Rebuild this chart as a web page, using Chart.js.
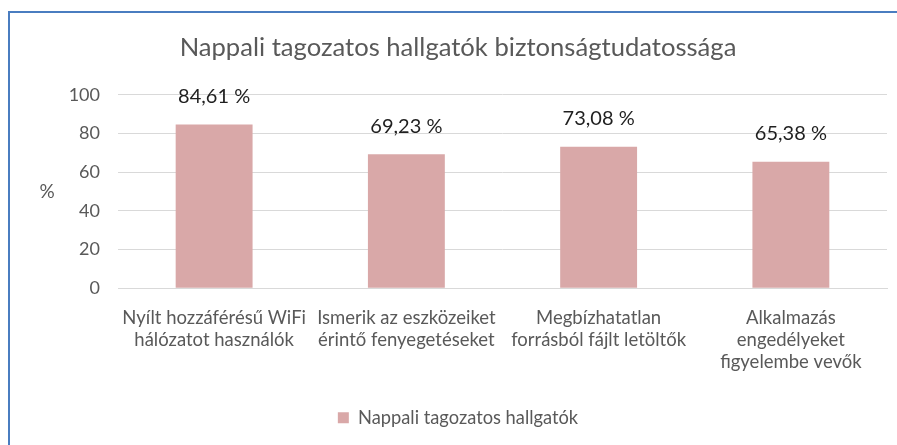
<!DOCTYPE html>
<html>
<head>
<meta charset="utf-8">
<script src="https://cdn.jsdelivr.net/npm/chart.js@4/dist/chart.umd.min.js"></script>
<style>
  html, body { margin: 0; padding: 0; background: #fff; overflow: hidden; width: 897px; height: 445px; }
  #frame { position: absolute; left: 8px; top: 11px; width: 1000px; height: 1000px;
           border-left: 2.5px solid #4a7dc0; border-top: 2.5px solid #4a7dc0; box-sizing: border-box; }
  #wrap { position: absolute; left: 10px; top: 0; width: 896px; height: 445px; }
</style>
</head>
<body>
<div id="frame"></div>
<div id="wrap"><canvas id="c" width="896" height="445"></canvas></div>
<script>
const categories = [
  ["Nyílt hozzáférésű WiFi", "hálózatot használók"],
  ["Ismerik az eszközeiket", "érintő fenyegetéseket"],
  ["Megbízhatatlan", "forrásból fájlt letöltők"],
  ["Alkalmazás", "engedélyeket", "figyelembe vevők"]
];
const seriesName = "Nappali tagozatos hallgatók";
const values = [84.61, 69.23, 73.08, 65.38];
const valueLabels = ["84,61 %", "69,23 %", "73,08 %", "65,38 %"];
const yTicks = [0, 20, 40, 60, 80, 100];
const chartTitle = "Nappali tagozatos hallgatók biztonságtudatossága";
const yAxisTitle = "%";

const FONT = "Lato";
const barColor = "#d9a8a8";
const textGray = "#595959";

const labelPlugin = {
  id: "valueLabels",
  afterDatasetsDraw(chart) {
    const ctx = chart.ctx;
    const meta = chart.getDatasetMeta(0);
    ctx.save();
    ctx.font = "20px " + FONT;
    ctx.fillStyle = "#1f1f1f";
    ctx.textAlign = "center";
    ctx.textBaseline = "middle";
    meta.data.forEach((bar, i) => {
      ctx.fillText(valueLabels[i], bar.x, bar.y - 28);
    });
    ctx.restore();
  }
};

const yTitlePlugin = {
  id: "yTitle",
  afterDraw(chart) {
    const ctx = chart.ctx;
    const a = chart.chartArea;
    ctx.save();
    ctx.font = "19px " + FONT;
    ctx.fillStyle = textGray;
    ctx.textAlign = "center";
    ctx.textBaseline = "middle";
    ctx.fillText(yAxisTitle, 37, (a.top + a.bottom) / 2);
    ctx.restore();
  }
};

new Chart(document.getElementById("c"), {
  type: "bar",
  data: {
    labels: categories,
    datasets: [{
      label: seriesName,
      data: values,
      backgroundColor: barColor,
      borderWidth: 0,
      barPercentage: 0.4,
      categoryPercentage: 1.0
    }]
  },
  options: {
    responsive: false,
    animation: false,
    devicePixelRatio: 1,
    layout: { padding: { left: 0, right: 0, top: 0, bottom: 8 } },
    plugins: {
      title: {
        display: true,
        text: chartTitle,
        color: textGray,
        font: { family: FONT, size: 25.6, weight: "normal", lineHeight: 1.2 },
        padding: { top: 32, bottom: 32 }
      },
      legend: {
        display: true,
        position: "bottom",
        labels: {
          color: textGray,
          font: { family: FONT, size: 18.3 },
          boxWidth: 11,
          boxHeight: 11,
          padding: 10
        }
      },
      tooltip: { enabled: false }
    },
    scales: {
      x: {
        afterFit(scale) { scale.height = 110.5; },
        grid: { display: false, drawTicks: false },
        border: { display: true, color: "#d9d9d9" },
        ticks: {
          color: textGray,
          font: { family: FONT, size: 18.5, lineHeight: 1.19 },
          autoSkip: false,
          maxRotation: 0,
          minRotation: 0,
          padding: 19
        }
      },
      y: {
        min: 0,
        max: 100,
        afterBuildTicks(scale) { scale.ticks = yTicks.map(v => ({ value: v })); },
        afterFit(scale) { scale.width = 108; },
        grid: { color: "#d9d9d9", drawTicks: false, lineWidth: 1 },
        border: { display: false },
        ticks: {
          color: textGray,
          font: { family: FONT, size: 18 },
          padding: 18
        }
      },
      yRightMargin: {
        position: "right",
        display: true,
        afterFit(scale) { scale.width = 19; },
        grid: { display: false, drawTicks: false },
        border: { display: false },
        ticks: { display: false }
      }
    }
  },
  plugins: [labelPlugin, yTitlePlugin]
});
</script>
</body>
</html>
